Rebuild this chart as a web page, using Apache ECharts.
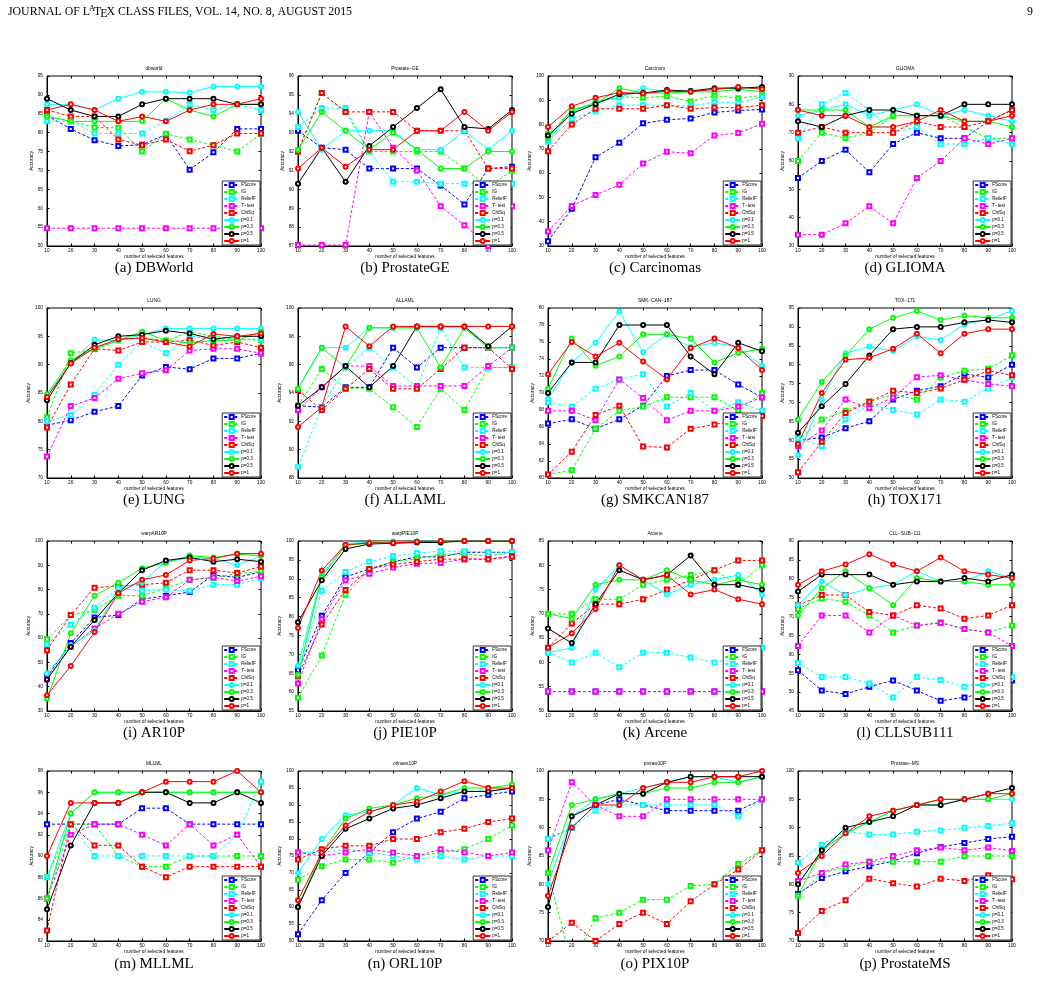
<!DOCTYPE html>
<html>
<head>
<meta charset="utf-8">
<script src="https://cdn.jsdelivr.net/npm/echarts@6/dist/echarts.min.js"></script>
<style>
  html, body { margin: 0; padding: 0; background: #fff; }
  #chart { width: 1041px; height: 988px; }
</style>
</head>
<body>
<div id="chart"></div>
<script>
// x axis: number of selected features
const features = [10, 20, 30, 40, 50, 60, 70, 80, 90, 100];
const methods = ['FScore', 'IG', 'ReliefF', 'T\u2212test', 'ChiSq', 'p=0.1', 'p=0.3', 'p=0.5', 'p=1'];

// plot titles, captions and y ranges
const titles = ['dbworld', 'Prostate\u2212GE', 'Carcinom', 'GLIOMA', 'LUNG', 'ALLAML', 'SMK\u2212CAN\u2212187', 'TOX\u2212171',
  'warpAR10P', 'warpPIE10P', 'Arcene', 'CLL\u2212SUB\u2212111', 'MLLML', 'orlraws10P', 'pixraw10P', 'Prostate\u2212MS'];
const captions = ['(a) DBWorld', '(b) ProstateGE', '(c) Carcinomas', '(d) GLIOMA', '(e) LUNG', '(f) ALLAML', '(g) SMKCAN187', '(h) TOX171',
  '(i) AR10P', '(j) PIE10P', '(k) Arcene', '(l) CLLSUB111', '(m) MLLML', '(n) ORL10P', '(o) PIX10P', '(p) ProstateMS'];
const yMins = [50, 87, 30, 30, 70, 88, 60, 50, 30, 55, 50, 45, 82, 50, 70, 70];
const yMaxs = [95, 96, 100, 90, 100, 100, 80, 95, 100, 100, 85, 90, 98, 100, 100, 100];
const ySteps = [5, 1, 10, 10, 5, 2, 2, 5, 10, 5, 5, 5, 2, 5, 5, 5];

// accuracy per method (rows follow `methods`)
const dbworld = [
  [84.5, 81, 78, 76.5, 76.8, 79.5, 70.2, 74.8, 81, 81],
  [84.3, 83, 81.4, 81.3, 75, 79.7, 78.2, 76.7, 75, 79.7],
  [83, 83, 79.8, 79.8, 79.8, 83, 87.5, 86, 87.5, 86],
  [54.7, 54.7, 54.7, 54.7, 54.7, 54.7, 54.7, 54.7, 54.7, 54.7],
  [86, 84.3, 84.3, 78.2, 76.7, 78.2, 75.1, 76.7, 79.8, 79.8],
  [87.5, 87.5, 86, 89, 90.8, 90.8, 90.6, 92.2, 92.2, 92.2],
  [84.3, 83, 83, 83, 83, 89, 86, 84.3, 87.5, 87.5],
  [89, 86, 84.3, 84.3, 87.5, 89, 89, 89, 87.5, 87.5],
  [86, 87.5, 86, 83, 84.3, 83, 86, 87.5, 87.5, 89]
];
const prostateGE = [
  [93.1, 92.2, 92.1, 91.1, 91.1, 91.1, 90.2, 89.2, 91.1, 91.2],
  [92, 95.1, 94.1, 92, 92, 92, 92, 91.1, 90.1, 91],
  [93.3, 94.3, 94.3, 92, 90.4, 90.4, 90.3, 90.3, 90.3, 90.3],
  [87.05, 87.05, 87.05, 94.1, 92.2, 91, 89.1, 88.1, 87, 89.1],
  [92, 95.1, 94.1, 94.1, 94.1, 93.1, 93.1, 93.1, 91.1, 91.1],
  [94.1, 92.1, 93.1, 93.1, 93.1, 92.1, 92.1, 93.1, 92.1, 93.1],
  [92.1, 94.1, 93.1, 92.1, 93, 92.1, 91.1, 91.1, 92, 92],
  [90.3, 92.2, 90.4, 92.3, 93.3, 94.3, 95.3, 93.3, 93.2, 94.2],
  [91.1, 92.2, 91.2, 92.1, 92.1, 93.1, 93.1, 94.1, 93.1, 94.1]
];
const carcinom = [
  [32, 45.3, 66.5, 72.5, 80.5, 82, 82.5, 85, 85.8, 86.2],
  [76, 86, 89, 91.5, 91, 91.8, 89.5, 92, 90.8, 92],
  [73, 82.5, 85.5, 88, 88, 88, 87.5, 89.3, 88.8, 91.5],
  [36, 46.5, 51, 55.2, 64, 68.8, 68.2, 75.5, 76.5, 80.3],
  [69, 80, 86.5, 86.5, 86.5, 88, 86.5, 87, 87, 88],
  [73.5, 85, 89.5, 91, 95, 93.5, 93.8, 94.5, 95, 95],
  [74.5, 86, 88.5, 95, 93, 93, 93.5, 93.5, 94.5, 93.5],
  [75.5, 84.5, 88.5, 92.5, 93, 94.2, 93.8, 95, 95, 95.5],
  [79, 87.5, 91, 93.2, 92.8, 93.8, 93.5, 94.5, 95.5, 94.5]
];
const glioma = [
  [54, 60, 64, 56, 66, 70, 68, 68, 74, 78],
  [60, 70, 68, 70, 76, 76, 76, 72, 68, 68],
  [68, 80, 84, 78, 70, 72, 66, 66, 68, 66],
  [34, 34, 38, 44, 38, 54, 60, 68, 66, 68],
  [70, 72, 70, 70, 70, 74, 72, 72, 74, 78],
  [76, 78, 80, 76, 78, 80, 76, 78, 76, 74],
  [78, 78, 78, 72, 76, 76, 76, 74, 74, 72],
  [74, 72, 76, 78, 78, 76, 76, 80, 80, 80],
  [78, 76, 76, 72, 72, 74, 78, 74, 74, 76]
];
const lung = [
  [79.3, 80.2, 81.7, 82.7, 88.1, 89.6, 89.2, 91.1, 91.1, 92],
  [80.7, 92, 92.7, 94.3, 94.8, 94.2, 95.8, 95, 94.5, 94.3],
  [80, 81.1, 84.7, 90, 94, 92, 95, 94.5, 94.5, 94.5],
  [73.8, 82.7, 84.1, 87.5, 88.5, 89, 92.5, 92.8, 92.8, 92],
  [78.9, 86.5, 92.8, 92.5, 94, 94, 94.3, 93.4, 94, 93],
  [84.5, 90.3, 94.4, 94.2, 95.3, 96.4, 96.4, 96.4, 96.4, 96.4],
  [84.8, 90.8, 92.8, 94.3, 95.8, 94.3, 93.8, 94.3, 94.3, 95.8],
  [83.7, 90.3, 93.5, 95, 95.3, 96, 95.5, 94.5, 95, 95],
  [84.3, 90.2, 93, 94.5, 94.7, 94, 93.2, 95.4, 95, 95.5]
];
const allaml = [
  [93.1, 93, 94.4, 94.4, 97.2, 95.8, 97.2, 97.2, 97.2, 97.2],
  [93.1, 95.7, 94.3, 94.3, 93, 91.6, 94.3, 92.8, 95.8, 95.8],
  [88.8, 93, 95.8, 97.2, 95.8, 94.4, 98.6, 95.8, 95.8, 95.8],
  [92.8, 94.4, 95.9, 95.9, 94.5, 94.5, 94.5, 94.5, 95.9, 97.2],
  [94.2, 92.8, 94.3, 95.7, 94.3, 94.3, 95.7, 97.2, 97.2, 95.7],
  [94.3, 97.2, 97.2, 98.6, 98.6, 98.6, 98.6, 98.6, 97.2, 97.2],
  [94.3, 97.2, 95.8, 98.6, 98.6, 98.6, 95.8, 98.6, 97.2, 97.2],
  [93.1, 94.4, 95.9, 94.4, 95.9, 98.7, 98.7, 98.7, 97.3, 98.7],
  [91.6, 93, 98.7, 97.3, 98.7, 98.7, 98.7, 98.7, 98.7, 98.7]
];
const smkcan = [
  [66.4, 66.9, 65.8, 66.9, 68.5, 72, 72.7, 72.7, 71, 69.5],
  [60.4, 60.9, 65.8, 67.9, 68.4, 69.5, 69.5, 69.5, 67.9, 70],
  [68.9, 68.4, 70.5, 71.6, 72.2, 68.4, 70, 67.9, 68.9, 67.9],
  [67.9, 67.9, 66.8, 71.6, 69.4, 66.8, 67.9, 67.9, 68.4, 69.5],
  [60.4, 63.1, 67.4, 68.5, 63.7, 63.6, 65.8, 66.3, 66.8, 67.3],
  [69.3, 73.6, 75.9, 79.6, 74.8, 76.9, 75.4, 75.9, 75.4, 73.2],
  [70.5, 76.4, 73.2, 74.3, 76.9, 76.9, 76.4, 73.6, 74.7, 75.2],
  [70, 73.6, 73.6, 78, 78, 78, 74.3, 72.2, 75.9, 74.9],
  [72.2, 76, 74.3, 75.9, 73.7, 71.6, 75.3, 76.4, 75.3, 72.7]
];
const tox = [
  [60, 60.7, 63.2, 65, 70.8, 73.1, 74.3, 77.6, 76.6, 80],
  [60, 65.5, 67.8, 70.2, 72, 70.8, 76.6, 78.4, 78.9, 82.4],
  [60.5, 58.5, 65.5, 69.5, 68, 66.8, 70.8, 70.2, 73.7, 76.6],
  [58.5, 62.6, 70.8, 68.5, 71.3, 76.7, 77.2, 76, 74.9, 74.3],
  [51.5, 59.6, 67.2, 70.2, 73.1, 72.5, 73.7, 76, 78.4, 77.2],
  [56, 70.8, 83, 84.8, 83.6, 87.5, 86.5, 90.7, 92, 94.2],
  [65.5, 75.4, 82.4, 89.4, 92.4, 94.2, 91.8, 93, 92.4, 92.4],
  [62, 69, 74.9, 82.4, 89.4, 90, 90, 91.2, 91.8, 91.2],
  [59, 72.5, 81.3, 81.8, 84.2, 88.2, 83, 88.2, 89.4, 89.4]
];
const ar10p = [
  [44, 58, 68.5, 69.5, 76, 77.5, 79, 86, 85, 87.3],
  [59.5, 69.5, 71.5, 77.5, 77.5, 80.5, 84, 84.8, 86.5, 87.5],
  [57.5, 65.5, 72.5, 80.5, 79.5, 80, 79.5, 82, 82, 84.8],
  [43, 56.5, 64, 70, 75, 76.8, 84, 85, 83.5, 85.5],
  [55, 69.5, 80.8, 81.5, 82, 82.8, 88, 88, 86.8, 89.5],
  [45.5, 57, 63, 80.5, 83, 91.5, 93, 93, 90, 94],
  [35, 62, 77.5, 82.8, 88.8, 91, 94, 93.2, 94.5, 94],
  [43, 56.5, 67.5, 78.5, 88, 92, 93.2, 91.5, 92.5, 91.5],
  [36.5, 48.5, 62.5, 78.5, 84, 86, 92, 92.8, 94.8, 94.8]
];
const pie10p = [
  [65.8, 80.2, 90.5, 92.6, 94.5, 95.8, 95.8, 97, 97, 97],
  [58.5, 69.7, 85.8, 92.3, 94.5, 95.3, 96.5, 96.5, 96, 97],
  [64, 86.8, 91.8, 94.5, 96, 96.8, 97.3, 97.3, 97.1, 97],
  [62.3, 79.3, 89.6, 91.3, 93, 94, 94.2, 95.2, 95.2, 96],
  [64.3, 77.9, 87, 92.6, 93.8, 94.5, 95.2, 95.2, 95.2, 95.8],
  [67, 91, 99.3, 99.7, 99.9, 99.9, 100, 100, 100, 100],
  [64.6, 90.5, 98.8, 99.5, 99.8, 99.9, 100, 100, 100, 100],
  [78.5, 89.6, 97.9, 99.2, 99.4, 99.6, 99.6, 100, 100, 100],
  [77, 92.2, 99, 99.5, 99.5, 99.8, 100, 100, 100, 100]
];
const arcene = [
  [54, 54, 54, 54, 54, 54, 54, 54, 54, 54],
  [70, 70, 73, 73, 76, 77, 78, 79, 76, 80],
  [62, 60, 62, 59, 62, 62, 61, 60, 61, 63],
  [54, 54, 54, 54, 54, 54, 54, 54, 54, 54],
  [63, 68, 72, 72, 73, 75, 77, 79, 81, 81],
  [62, 63, 75, 80, 77, 74, 76, 77, 78, 74],
  [70, 69, 76, 77, 77, 79, 77, 76, 77, 76],
  [67, 64, 72, 79, 77, 78, 82, 76, 76, 75],
  [63, 66, 71, 80, 77, 78, 74, 75, 73, 72]
];
const cllsub = [
  [55.8, 50.4, 49.5, 51.4, 53.1, 50.4, 47.7, 48.6, 50, 53.1],
  [72, 74.8, 73.9, 70.3, 65.8, 67.6, 68.5, 66.7, 65.8, 67.6],
  [57.7, 54, 54, 52.3, 48.6, 54, 53.2, 51.4, 53, 54],
  [62.2, 70.3, 70.3, 65.8, 70.3, 67.6, 68.3, 66.7, 65.8, 62.2],
  [73, 75.7, 75.7, 71.2, 70.3, 73, 72.1, 69.4, 70.3, 73],
  [73, 79.3, 75.7, 77.5, 78.4, 82, 79.3, 79.3, 82, 80.2],
  [70.3, 77.5, 82, 77.5, 73, 80.2, 79.3, 79.3, 78.4, 78.4],
  [76.6, 81.1, 81.1, 81.1, 78.4, 79.3, 79.3, 80.2, 79.3, 81.1],
  [78.4, 82, 83.8, 86.5, 83.8, 82, 85.6, 82, 81.1, 80.2]
];
const mllml = [
  [93, 93, 93, 93, 94.5, 94.5, 93, 93, 93, 93],
  [88, 93, 93, 90, 89, 89, 90, 90, 90, 90],
  [86, 93, 90, 90, 90, 90, 90, 90, 92, 97],
  [86, 92, 93, 93, 92, 91, 93, 91, 92, 89],
  [83, 93, 91, 91, 89, 88, 89, 89, 89, 89],
  [88, 94, 96, 96, 96, 96, 96, 96, 96, 96],
  [86, 94, 96, 96, 96, 96, 96, 96, 96, 96],
  [85, 91, 95, 95, 96, 96, 95, 95, 96, 95],
  [90, 95, 95, 95, 96, 97, 97, 97, 98, 96]
];
const orl10p = [
  [52, 62, 70, 76, 82, 86, 88, 92, 93, 94],
  [68, 72, 74, 74, 73, 75, 76, 77, 80, 84],
  [76, 76, 77, 76, 75, 74, 75, 74, 75, 75],
  [76, 75, 76, 77, 76, 75, 77, 76, 75, 76],
  [74, 77, 78, 78, 80, 80, 82, 83, 85, 86],
  [70, 80, 87, 88, 90, 95, 93, 94, 94, 95],
  [60, 76, 86, 89, 90, 92, 93, 95, 95, 96],
  [60, 75, 83, 86, 89, 90, 92, 94, 94, 95],
  [62, 76, 84, 88, 90, 91, 94, 97, 95, 95]
];
const pix10p = [
  [88, 90, 94, 95, 94, 93, 93, 93, 93, 95],
  [82, 66, 74, 75, 77.3, 77.3, 79.7, 80, 83.6, 86],
  [88, 90, 93, 94, 94, 94, 94, 94, 92, 95],
  [86, 98, 94, 92, 92, 95, 95, 95, 95, 95],
  [70, 73.2, 70, 73, 75, 73, 77, 80, 82.6, 86],
  [80, 92, 95, 96, 97, 98, 99, 99, 98, 99],
  [82, 94, 95, 96, 96, 97, 97, 98, 98, 99],
  [76, 92, 94, 96, 96, 98, 99, 99, 99, 99],
  [78, 90, 94, 94, 97, 98, 98, 99, 99, 100]
];
const prostateMS = [
  [78.3, 81.1, 82.3, 83.2, 84.1, 85.5, 86.6, 87.3, 88, 88.4],
  [78, 82, 83, 84, 84, 84, 84, 85, 85, 85],
  [83.8, 87, 89.3, 88.8, 88.8, 89.3, 89.5, 90, 90.3, 90.8],
  [80.6, 82, 83.5, 84, 85, 86, 86.5, 86, 86.5, 85.9],
  [71.4, 75.3, 77.2, 81, 80.2, 79.6, 81, 80.6, 81.6, 80.9],
  [80, 86, 89, 91, 93, 94, 94, 95, 95, 95],
  [78, 86, 89, 91, 93, 94, 95, 95, 95, 96],
  [80, 86, 90, 91, 92, 94, 94, 95, 96, 97],
  [82, 85, 89, 92, 93, 94, 95, 95, 96, 96]
];
const datasets = [dbworld, prostateGE, carcinom, glioma, lung, allaml, smkcan, tox,
  ar10p, pie10p, arcene, cllsub, mllml, orl10p, pix10p, prostateMS];

const colors = ['#0000ff', '#00ff00', '#00ffff', '#ff00ff', '#ff0000', '#00ffff', '#00ff00', '#000000', '#ff0000'];

// layout of the 4x4 panel grid
const colLeft = [47, 298, 548, 798];
const rowTop = [76, 308, 541, 771];
const W = 214, H = 170;
const captionY = [268, 500, 733, 964];

const chart = echarts.init(document.getElementById('chart'), null, { renderer: 'canvas' });

const grid = [], xAxis = [], yAxis = [], series = [], legend = [], graphic = [];
const extraX = [], extraY = [];
const sans = 'Liberation Sans';
const serif = 'Liberation Serif';
const tiny = 4.8;

datasets.forEach((rows, i) => {
  const r = Math.floor(i / 4), c = i % 4;
  const left = colLeft[c], top = rowTop[r];
  grid.push({ left, top, width: W, height: H, show: true, borderColor: '#000', borderWidth: 1, backgroundColor: '#fff' });

  xAxis.push({
    gridIndex: i, type: 'value', min: 10, max: 100, interval: 10,
    axisLine: { lineStyle: { color: '#000', width: 1 } },
    axisTick: { inside: true, length: 2.5, lineStyle: { color: '#000' } },
    axisLabel: { fontSize: tiny, margin: 2, color: '#000', fontFamily: sans },
    splitLine: { show: false },
    name: 'number of selected features', nameLocation: 'middle', nameGap: 8,
    nameTextStyle: { fontSize: tiny, color: '#000', fontFamily: sans }
  });
  yAxis.push({
    gridIndex: i, type: 'value', min: yMins[i], max: yMaxs[i], interval: ySteps[i],
    axisLine: { lineStyle: { color: '#000', width: 1 } },
    axisTick: { inside: true, length: 2.5, lineStyle: { color: '#000' } },
    axisLabel: { fontSize: tiny, margin: 4, color: '#000', fontFamily: sans },
    splitLine: { show: false },
    name: 'Accuracy', nameLocation: 'middle', nameGap: 12, nameRotate: 90,
    nameTextStyle: { fontSize: tiny, color: '#000', fontFamily: sans }
  });
  // matlab box: ticks on top and right too
  extraX.push({
    gridIndex: i, type: 'value', position: 'top', min: 10, max: 100, interval: 10,
    axisLine: { show: false }, axisLabel: { show: false }, splitLine: { show: false },
    axisTick: { inside: true, length: 2.5, lineStyle: { color: '#000' } }
  });
  extraY.push({
    gridIndex: i, type: 'value', position: 'right', min: yMins[i], max: yMaxs[i], interval: ySteps[i],
    axisLine: { show: false }, axisLabel: { show: false }, splitLine: { show: false },
    axisTick: { inside: true, length: 2.5, lineStyle: { color: '#000' } }
  });

  rows.forEach((vals, m) => {
    series.push({
      type: 'line', name: methods[m], xAxisIndex: i, yAxisIndex: i,
      data: features.map((f, k) => [f, vals[k]]),
      symbol: m < 5 ? 'emptyRect' : 'emptyCircle', symbolSize: 4,
      lineStyle: { color: colors[m], width: 1, type: m < 5 ? [3, 2] : 'solid' },
      itemStyle: { color: colors[m], borderWidth: 1 },
      clip: true, silent: true
    });
  });

  legend.push({
    orient: 'vertical',
    right: 1041 - (left + W) + 1,
    bottom: 988 - (top + H) + 1,
    data: methods, selectedMode: false,
    itemWidth: 15, itemHeight: 5, itemGap: 1,
    padding: [1, 4, 1, 1],
    backgroundColor: '#fff', borderColor: '#000', borderWidth: 0.8,
    textStyle: { fontSize: 4.6, lineHeight: 5, color: '#000', fontFamily: sans, padding: [0, 0, 0, -3] }
  });

  graphic.push({
    type: 'text', x: left + W / 2, y: top - 7,
    style: { text: titles[i], font: tiny + 'px ' + sans, fill: '#000', align: 'center', verticalAlign: 'middle' }
  });
  graphic.push({
    type: 'text', x: left + W / 2, y: captionY[r],
    style: { text: captions[i], font: '15px ' + serif, fill: '#000', align: 'center', verticalAlign: 'middle' }
  });
});

graphic.push({
  type: 'text', x: 8, y: 12,
  style: {
    text: 'JOURNAL OF L{a|A}T{e|E}X CLASS FILES, VOL. 14, NO. 8, AUGUST 2015',
    font: '11.8px ' + serif, fill: '#000', verticalAlign: 'middle',
    rich: {
      a: { fontSize: 8.5, fontFamily: serif, verticalAlign: 'top', padding: [0, -1, 3, -1] },
      e: { fontSize: 11.8, fontFamily: serif, padding: [4, -1, 0, -1] }
    }
  }
});
graphic.push({
  type: 'text', x: 1033, y: 12,
  style: { text: '9', font: '11.8px ' + serif, fill: '#000', align: 'right', verticalAlign: 'middle' }
});

chart.setOption({
  animation: false,
  backgroundColor: '#fff',
  grid, xAxis: xAxis.concat(extraX), yAxis: yAxis.concat(extraY),
  legend, series, graphic
});
</script>
</body>
</html>
